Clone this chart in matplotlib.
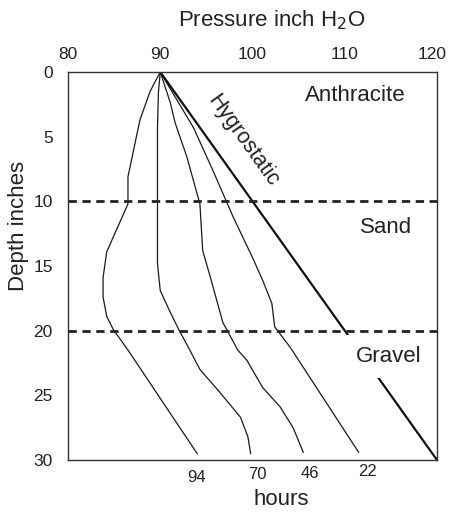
import matplotlib
matplotlib.use("Agg")
import matplotlib.pyplot as plt
import matplotlib.transforms as mtransforms

plt.rcParams['font.family'] = ['Liberation Sans', 'DejaVu Sans']

# pressure (inch H2O) against depth (inches) for each time
depth_94 = [0, 1.5, 3.7, 8.1, 10.2, 13.9, 15.9, 17.4, 18.9, 19.9, 21.5, 29.5]
pres_94 = [90, 88.9, 87.8, 86.5, 86.5, 84.2, 83.8, 83.8, 84.2, 84.9, 86.5, 94.0]

depth_70 = [0, 1.6, 4.3, 10.2, 14.8, 16.9, 18.6, 19.9, 21.5, 23.0, 24.8, 26.7, 28.2, 29.5]
pres_70 = [90, 89.8, 89.7, 89.7, 89.7, 90.0, 91.1, 92.0, 93.2, 94.3, 96.5, 98.7, 99.5, 99.8]

depth_46 = [0, 2.4, 3.9, 6.6, 10.2, 13.8, 16.3, 19.4, 19.9, 21.5, 22.3, 24.4, 25.9, 27.5, 29.4]
pres_46 = [90, 91.1, 91.6, 92.9, 94.3, 94.6, 95.6, 96.8, 97.2, 98.4, 99.4, 101.1, 103.0, 104.4, 105.5]

depth_22 = [0, 4.3, 7.6, 11.2, 14.5, 16.1, 17.9, 19.7, 21.3, 29.4]
pres_22 = [90, 93.6, 95.7, 97.9, 100.1, 101.1, 102.1, 102.4, 104.1, 111.5]

hyg_depth = [0, 30]
hyg_pres = [90, 120]

curves = [(pres_94, depth_94, '94'), (pres_70, depth_70, '70'),
          (pres_46, depth_46, '46'), (pres_22, depth_22, '22')]
label_off = [(-1, -24), (7, -21), (7, -21), (9, -19)]  # pixels from curve end

layers = [10, 20]
x_ticks = [80, 90, 100, 110, 120]
y_ticks = [0, 5, 10, 15, 20, 25, 30]

fig = plt.figure(figsize=(4.49, 5.12), dpi=100)
ax = fig.add_axes([68/449, 1-460/512, 369/449, 388/512])

for (p, d, lab), off in zip(curves, label_off):
    ax.plot(p, d, color='#1a1a1a', lw=0.9)
    ax.annotate(lab, (p[-1], d[-1]), xytext=(off[0]*0.72, off[1]*0.72),
                textcoords='offset points', ha='center', va='center',
                fontsize=12, color='#222222')

ax.plot(hyg_pres, hyg_depth, color='#111111', lw=1.6)

for y in layers:
    ax.axhline(y, color='#222222', lw=2, dashes=(3, 2))

ax.text(99.0, 5.3, 'Hygrostatic', rotation=-54.5, rotation_mode='anchor',
        ha='center', va='center', fontsize=15.5, color='#222222')
ax.text(111.1, 1.8, 'Anthracite', ha='center', va='center', fontsize=16, color='#222222')
ax.text(114.5, 12.0, 'Sand', ha='center', va='center', fontsize=16, color='#222222')
ax.text(114.8, 22.0, 'Gravel', ha='center', va='center', fontsize=16, color='#222222',
        bbox=dict(facecolor='white', edgecolor='none', pad=8))

ax.set_xlim(80, 120)
ax.set_ylim(30, 0)
ax.xaxis.tick_top()
ax.set_xticks(x_ticks)
ax.set_yticks(y_ticks)
ax.tick_params(length=0, labelsize=12.5, colors='#222222')
ax.tick_params(axis='x', pad=7)
ax.tick_params(axis='y', pad=11)
for s in ax.spines.values():
    s.set_color('#333333')
    s.set_linewidth(1)

# last top label sits a bit inward so it stays on the canvas
fig.canvas.draw()
lbl = ax.get_xticklabels()[-1]
lbl.set_transform(lbl.get_transform() + mtransforms.ScaledTranslation(-5/100, 0, fig.dpi_scale_trans))

ax.xaxis.set_label_position('top')
ax.set_xlabel('Pressure inch H$_2$O', fontsize=16, color='#222222')
ax.xaxis.set_label_coords(0.553, 1.134)
ax.xaxis.label.set_va('center')
ax.set_ylabel('Depth inches', fontsize=16, color='#222222')
ax.yaxis.set_label_coords(-0.135, 0.603)
ax.yaxis.label.set_va('center')
ax.text(0.577, -0.103, 'hours', transform=ax.transAxes, ha='center', va='center',
        fontsize=16, color='#222222')

plt.savefig('out.png', dpi=100)
